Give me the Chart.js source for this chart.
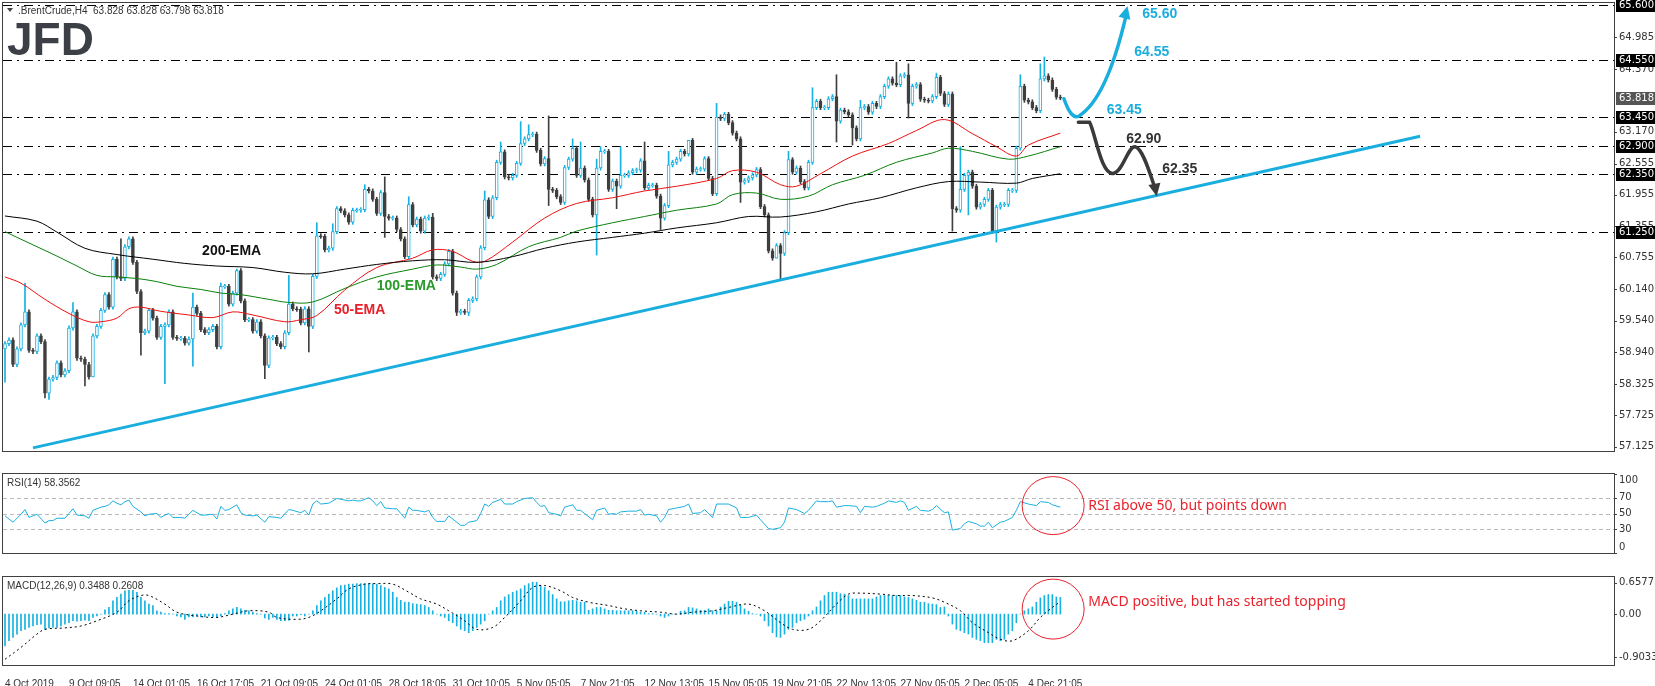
<!DOCTYPE html>
<html>
<head>
<meta charset="utf-8">
<script src="https://cdn.jsdelivr.net/npm/chart.js@4.4.1/dist/chart.umd.min.js"></script>
<style>
body{margin:0;background:#fff;width:1655px;height:686px;overflow:hidden;position:relative}
canvas{position:absolute;left:0}
</style>
</head>
<body>
<canvas id="price" width="1655" height="473" style="top:0"></canvas>
<canvas id="rsi" width="1655" height="102" style="top:473px"></canvas>
<canvas id="macd" width="1655" height="111" style="top:575px"></canvas>
<script>
// ---- data (H4 bars, index = bar number) ----
const N = 403;
const xLabels = ['4 Oct 2019','9 Oct 09:05','14 Oct 01:05','16 Oct 17:05','21 Oct 09:05','24 Oct 01:05','28 Oct 18:05','31 Oct 10:05','5 Nov 05:05','7 Nov 21:05','12 Nov 13:05','15 Nov 05:05','19 Nov 21:05','22 Nov 13:05','27 Nov 05:05','2 Dec 05:05','4 Dec 21:05'];

const firstOpen = 59.0;
const closes = [
59.1,59.17,58.7,59.0,59.46,59.71,58.97,58.95,59.25,59.14,
58.15,58.42,58.45,58.73,58.5,58.58,59.40,59.71,58.82,58.8,
58.7,58.46,59.25,59.43,59.74,60.04,59.8,60.72,60.38,60.35,
60.96,61.11,60.66,60.10,59.31,59.34,59.74,59.59,59.22,59.43,
59.46,59.71,59.22,59.2,59.2,59.11,59.19,59.8,59.68,59.37,
59.31,59.37,59.43,59.04,60.2,60.2,59.86,60.07,60.5,59.92,
59.56,59.56,59.34,59.52,59.25,58.68,59.21,59.22,59.10,59.04,
59.31,59.86,59.77,59.76,59.5,59.77,59.43,60.39,61.17,61.16,
60.9,60.93,61.25,61.69,61.65,61.57,61.43,61.66,61.66,61.67,
62.06,62.03,61.87,61.60,62.0,61.54,61.51,61.51,61.29,61.11,
60.77,61.77,61.38,61.49,61.26,61.51,61.53,60.38,60.35,60.43,
60.63,60.87,60.07,59.70,59.72,59.70,59.93,59.96,60.38,60.94,
61.86,61.54,61.9,62.58,62.78,62.30,62.28,62.33,62.56,62.94,
63.03,63.11,63.12,62.81,62.55,62.65,62.06,62.04,61.92,61.81,
62.48,62.64,62.85,62.33,62.47,62.24,61.87,61.57,62.47,62.79,
62.79,62.06,62.22,62.12,62.33,62.33,62.38,62.42,62.43,62.61,
62.09,62.14,62.14,61.93,61.51,61.75,62.53,62.58,62.64,62.79,
62.74,63.0,62.39,62.45,62.45,62.65,62.27,61.98,63.45,63.42,
63.50,63.34,63.14,63.03,62.20,62.23,62.28,62.34,62.44,61.73,
61.57,60.88,60.74,60.98,60.83,61.23,62.63,62.39,62.47,62.21,
62.09,62.58,63.63,63.75,63.63,63.63,63.80,63.84,63.37,63.58,
63.55,63.49,63.24,63.03,63.63,63.65,63.54,63.71,63.65,63.84,
64.04,64.18,64.10,64.07,64.24,64.26,63.71,64.04,64.07,63.79,
63.77,63.76,63.84,64.21,63.9,63.69,63.89,61.69,61.66,62.06,
62.33,62.39,62.12,61.72,61.77,61.87,62.04,61.26,61.72,61.77,
61.77,62.04,62.04,62.85,64.04,63.77,63.74,63.63,63.57,64.18,
64.24,64.16,63.98,63.83,63.82];

// long wicks only; other bars get a short wick
const hiIdx = [5,17,29,47,54,58,71,78,82,90,95,101,107,120,124,129,131,136,142,144,148,149,154,160,166,171,178,196,202,208,214,223,226,233,239,254,259,260];
const hiVal = [60.26,59.89,61.11,60.07,60.26,60.53,60.41,61.42,61.4,62.15,62.3,61.92,61.6,62.03,62.97,63.36,63.3,63.47,63.03,62.97,62.64,62.88,62.88,62.97,62.79,62.97,63.71,62.79,64.01,64.26,63.77,64.5,64.47,64.29,62.88,64.26,64.47,64.6];
const loIdx = [0,10,11,20,22,34,40,47,65,76,95,113,116,136,148,153,164,184,193,194,208,212,226,237,241,248];
const loVal = [58.36,58.06,58.03,58.29,58.46,58.88,58.33,58.67,58.43,58.94,61.14,59.64,59.64,61.75,60.80,61.69,61.29,61.81,60.74,60.32,62.97,62.91,63.43,61.26,61.57,61.05];

const ema200Idx = [0,8,13,20,28,37,45,53,62,70,77,85,93,102,110,118,127,135,143,152,160,168,178,186,194,203,211,219,228,236,244,253,257,264];
const ema200Val = [61.55,61.45,61.24,60.93,60.81,60.72,60.64,60.59,60.56,60.47,60.44,60.53,60.62,60.69,60.71,60.66,60.77,60.93,61.05,61.14,61.22,61.32,61.42,61.54,61.53,61.63,61.78,61.9,62.09,62.21,62.2,62.18,62.27,62.36];
const ema100Idx = [0,3,8,13,18,23,28,33,38,43,49,54,59,66,71,77,85,93,102,108,114,118,123,131,139,143,152,160,168,178,182,188,194,201,207,215,223,232,236,242,251,256,264];
const ema100Val = [61.25,61.14,60.96,60.78,60.59,60.41,60.38,60.35,60.29,60.2,60.14,60.07,60.04,59.95,59.89,59.9,60.16,60.38,60.53,60.61,60.57,60.53,60.62,60.96,61.14,61.26,61.42,61.54,61.66,61.78,61.96,61.99,61.87,61.93,62.15,62.33,62.58,62.76,62.85,62.79,62.64,62.70,62.88];
const ema50Idx = [0,4,10,16,21,24,28,31,34,39,46,52,57,62,70,74,78,85,93,102,107,112,117,120,127,135,143,152,160,168,178,182,188,194,198,204,212,221,228,235,242,248,253,256,264];
const ema50Val = [60.38,60.26,59.95,59.68,59.52,59.52,59.59,59.77,59.8,59.72,59.65,59.6,59.71,59.65,59.52,59.56,59.64,60.13,60.56,60.74,60.9,60.87,60.68,60.68,61.05,61.51,61.79,61.9,62.03,62.12,62.27,62.42,62.39,62.15,62.12,62.36,62.7,62.94,63.19,63.40,63.13,62.88,62.70,62.91,63.14];

const trendIdx = [7,354];
const trendVal = [57.1,63.08];

const levels = [65.60,64.55,63.45,62.90,62.35,61.25];
const lastPrice = 63.818;
const priceTicks = [64.985,64.370,63.170,62.555,61.955,61.355,60.755,60.140,59.540,58.940,58.325,57.725,57.125];

const rsiPts = [[0,47],[2,39],[4,49],[5,55],[6,45],[8,49],[10,38],[11,41],[12,41],[13,44],[15,44],[16,50],[17,56],[18,48],[20,47],[21,44],[22,54],[24,58],[25,59],[26,61],[27,66],[28,63],[29,61],[30,65],[31,67],[32,59],[34,52],[35,47],[36,49],[38,50],[39,45],[40,48],[41,50],[42,45],[44,45],[45,44],[47,54],[49,48],[50,48],[52,49],[53,43],[54,59],[55,54],[56,55],[58,61],[59,51],[60,48],[62,47],[63,48],[65,39],[66,46],[68,45],[69,44],[71,55],[72,54],[74,51],[75,54],[76,48],[77,62],[78,66],[79,62],[81,63],[82,66],[83,69],[84,68],[86,66],[87,67],[88,66],[89,66],[91,70],[92,66],[93,60],[94,65],[95,57],[97,56],[98,56],[99,50],[100,44],[101,58],[102,54],[103,54],[105,52],[106,54],[107,45],[108,40],[110,40],[111,47],[113,39],[114,35],[115,35],[116,39],[118,41],[119,50],[120,62],[121,59],[122,64],[124,68],[125,62],[127,62],[128,65],[130,69],[132,70],[133,64],[134,59],[135,60],[136,51],[138,49],[139,47],[140,58],[142,61],[143,54],[144,54],[145,50],[147,42],[148,54],[150,57],[151,49],[152,50],[153,49],[154,52],[156,53],[158,53],[159,55],[160,48],[161,49],[163,47],[164,39],[165,45],[166,55],[168,57],[170,59],[171,62],[172,50],[174,51],[175,55],[177,45],[178,62],[181,62],[183,57],[184,45],[186,45],[188,48],[189,42],[191,31],[192,30],[194,32],[195,39],[196,57],[198,55],[200,50],[201,54],[203,66],[204,65],[206,65],[207,66],[208,58],[210,60],[211,60],[213,59],[214,51],[215,59],[217,58],[218,59],[220,63],[221,66],[223,64],[224,66],[225,64],[226,54],[228,59],[229,54],[231,53],[232,55],[233,60],[235,51],[236,52],[237,29],[239,31],[240,37],[241,40],[243,37],[244,34],[245,34],[246,39],[247,32],[249,39],[250,40],[252,45],[253,54],[254,65],[256,62],[258,60],[259,65],[261,64],[262,61],[264,58]];
const rsiLevels = [70,50,30];

const macdHist = [
-0.67,-0.56,-0.49,-0.42,-0.35,-0.32,-0.28,-0.25,-0.22,-0.21,
-0.32,-0.29,-0.28,-0.28,-0.25,-0.21,-0.18,-0.14,-0.15,-0.14,
-0.13,-0.14,-0.07,-0.04,0,0.09,0.14,0.28,0.35,0.42,
0.49,0.5,0.5,0.46,0.35,0.28,0.21,0.18,0.07,0.04,
0.01,0.01,0,-0.04,-0.06,-0.11,-0.06,-0.06,-0.04,-0.06,
-0.06,-0.04,-0.06,-0.07,-0.04,0.01,0.07,0.11,0.14,0.11,
0.08,0.07,0.04,0.01,0,-0.08,-0.11,-0.07,-0.11,-0.14,
-0.14,-0.13,-0.04,-0.04,-0.01,-0.04,0,0.07,0.18,0.28,
0.35,0.42,0.49,0.55,0.6,0.61,0.63,0.63,0.64,0.64,
0.64,0.64,0.64,0.63,0.6,0.56,0.53,0.46,0.35,0.29,
0.25,0.25,0.22,0.21,0.2,0.18,0.14,0.07,0,-0.04,
-0.07,-0.14,-0.18,-0.25,-0.32,-0.35,-0.39,-0.35,-0.28,-0.21,
-0.14,0,0.07,0.14,0.28,0.36,0.41,0.46,0.49,0.53,
0.6,0.64,
0.67,0.67,0.6,0.56,0.49,0.41,0.32,0.26,0.26,0.28,
0.29,0.28,0.25,0.25,0.08,0.11,0.14,0.14,0.11,0.08,
0.08,0.07,0.07,0.07,0.07,0.07,0.06,0.04,0.04,0.01,
0.01,0,-0.04,-0.07,-0.04,0,0,0.06,0.07,0.14,
0.13,0.11,0.08,0.08,0.11,0.07,0.07,0.15,0.21,0.27,
0.27,0.25,0.19,0.11,0.06,0.01,0,-0.04,-0.14,-0.25,
-0.39,-0.48,-0.49,-0.42,-0.32,-0.28,-0.18,-0.14,-0.11,-0.04,
0.07,0.15,0.28,0.39,0.46,0.46,0.46,0.43,0.42,0.39,
0.32,0.32,0.32,0.32,0.32,0.32,0.36,0.39,0.39,0.39,
0.39,0.39,0.39,0.36,0.35,0.32,0.29,0.25,0.25,0.22,
0.21,0.2,0.14,0.15,-0.04,-0.21,-0.32,-0.35,-0.39,-0.42,
-0.49,-0.53,-0.56,-0.6,-0.6,-0.6,-0.53,-0.56,-0.53,-0.42,
-0.35,-0.18,0,0.07,0.11,0.15,0.25,0.34,0.39,0.41,
0.41,0.36,0.35];
const sigIdx = [0,4,8,10,15,19,23,28,31,34,36,40,43,48,53,57,61,66,68,73,76,79,83,86,90,93,97,101,104,108,111,115,118,122,125,129,132,135,139,142,146,151,155,159,164,168,172,177,181,186,190,194,197,201,204,208,211,214,219,223,227,232,235,239,242,246,249,252,256,259,262,264];
const sigVal = [-0.95,-0.7,-0.42,-0.32,-0.29,-0.25,-0.14,0.04,0.28,0.39,0.39,0.21,0.04,-0.04,-0.07,0,0.07,0.04,-0.07,-0.11,-0.07,0.07,0.32,0.53,0.63,0.64,0.63,0.46,0.32,0.21,0.07,-0.14,-0.32,-0.28,-0.07,0.28,0.56,0.6,0.49,0.35,0.25,0.18,0.11,0.07,0.04,0,0.04,0.07,0.14,0.21,0.07,-0.18,-0.32,-0.32,-0.14,0.21,0.42,0.44,0.42,0.39,0.39,0.34,0.25,0.07,-0.18,-0.39,-0.53,-0.56,-0.35,-0.07,0.14,0.26];

// ---- helpers ----
const UP = '#17b1e2', DN = '#3f3f3f', BLUE = '#1aaede', RED = '#e8222d';
const AX = '#333';
const labels = Array.from({length: N}, (_, i) => (i % 16 === 0 && i / 16 < xLabels.length) ? xLabels[i / 16] : '');

function sparse(idx, val) {
  const a = new Array(N).fill(null);
  idx.forEach((k, j) => { a[k] = val[j]; });
  return a;
}

const opens = closes.map((c, i) => i ? closes[i - 1] : firstOpen);
const hiArr = sparse(hiIdx, hiVal), loArr = sparse(loIdx, loVal);
const bodies = closes.map((c, i) => {
  const o = opens[i];
  return Math.abs(o - c) < 0.015 ? [c - 0.008, c + 0.008] : [o, c];
});
const wicks = closes.map((c, i) => {
  const o = opens[i];
  return [loArr[i] ?? Math.min(o, c) - 0.04, hiArr[i] ?? Math.max(o, c) + 0.04];
});
const candleCol = closes.map((c, i) => c >= opens[i] ? UP : DN);

function xAxis(show) {
  return {
    type: 'category', labels: labels, offset: true,
    display: show, grid: { display: false }, border: { display: false },
    ticks: {
      autoSkip: false, maxRotation: 0, align: 'start', padding: 5,
      color: AX, font: { family: 'Liberation Sans', size: 10 },
      callback: (v, i) => labels[i]
    },
    afterFit: s => { s.height = 21; }
  };
}
function yAxis(min, max) {
  return {
    position: 'right', min: min, max: max,
    grid: { display: false }, border: { display: false },
    ticks: { display: false },
    afterFit: s => { s.width = 41; }
  };
}

// draws panel frame and right-axis labels
function panelPlugin(ticks, extra) {
  return {
    id: 'panel',
    afterDraw(chart) {
      const ctx = chart.ctx, a = chart.chartArea, y = chart.scales.y;
      ctx.save();
      ctx.strokeStyle = '#404040';
      ctx.lineWidth = 1;
      ctx.strokeRect(a.left - 0.5, a.top - 0.5, a.right - a.left + 1, a.bottom - a.top + 1);
      ctx.font = '10px "DejaVu Sans"';
      ctx.fillStyle = AX;
      ctx.textAlign = 'left';
      ticks.forEach(t => {
        const py = y.getPixelForValue(t[0]);
        ctx.textBaseline = t[2] || 'middle';
        ctx.fillText(t[1], a.right + 5, py + (t[3] || 0));
        ctx.beginPath();
        ctx.moveTo(a.right, Math.round(py) + 0.5);
        ctx.lineTo(a.right + 3, Math.round(py) + 0.5);
        ctx.stroke();
      });
      if (extra) extra(chart, ctx);
      ctx.restore();
    }
  };
}

function arrowHead(ctx, fx, fy, tx, ty, size) {
  const ang = Math.atan2(ty - fy, tx - fx);
  ctx.beginPath();
  ctx.moveTo(tx, ty);
  ctx.lineTo(tx - size * Math.cos(ang - 0.45), ty - size * Math.sin(ang - 0.45));
  ctx.lineTo(tx - size * Math.cos(ang + 0.45), ty - size * Math.sin(ang + 0.45));
  ctx.closePath();
  ctx.fill();
}

// ---- price panel ----
const priceExtra = (chart, ctx) => {
  const x = chart.scales.x, y = chart.scales.y, a = chart.chartArea;
  const P = (i, p) => [x.getPixelForValue(i), y.getPixelForValue(p)];
  // level boxes
  ctx.font = '10px "DejaVu Sans"';
  ctx.textBaseline = 'middle';
  levels.concat([lastPrice]).forEach(v => {
    const py = Math.round(y.getPixelForValue(v));
    ctx.fillStyle = v === lastPrice ? '#555' : '#000';
    ctx.fillRect(a.right + 2, py - 6, 39, 13);
    ctx.fillStyle = '#fff';
    ctx.fillText(v.toFixed(3), a.right + 5, py + 0.5);
  });
  // header
  ctx.fillStyle = '#444';
  ctx.beginPath(); ctx.moveTo(7, 8); ctx.lineTo(13, 8); ctx.lineTo(10, 12); ctx.closePath(); ctx.fill();
  ctx.font = '10px "Liberation Sans"';
  ctx.fillStyle = '#333';
  ctx.textBaseline = 'middle';
  ctx.fillText('.BrentCrude,H4  63.828 63.828 63.798 63.818', 18, 11);
  ctx.font = 'bold 46px "Liberation Sans"';
  ctx.fillStyle = '#3c3f46';
  ctx.textBaseline = 'alphabetic';
  ctx.fillText('JFD', 7, 55);
  // EMA labels
  ctx.font = 'bold 14px "Liberation Sans"';
  ctx.textAlign = 'center';
  ctx.textBaseline = 'middle';
  [['200-EMA', 56.7, 60.88, '#111'], ['100-EMA', 100.4, 60.21, '#2a9a2a'], ['50-EMA', 88.7, 59.75, '#e8202a']].forEach(t => {
    const p = P(t[1], t[2]);
    ctx.fillStyle = t[3];
    ctx.fillText(t[0], p[0], p[1]);
  });
  // scenario arrows
  ctx.lineWidth = 3.5;
  ctx.lineCap = 'round';
  ctx.strokeStyle = BLUE; ctx.fillStyle = BLUE;
  let A = P(264.9, 63.80), C1 = P(266.8, 63.38), B = P(268.7, 63.47), C2 = P(275.5, 63.8), T = P(280.3, 65.35);
  ctx.beginPath(); ctx.moveTo(...A); ctx.quadraticCurveTo(...C1, ...B); ctx.quadraticCurveTo(...C2, ...T); ctx.stroke();
  const tip = P(280.8, 65.58);
  arrowHead(ctx, C2[0] + 8, C2[1] - 40, tip[0], tip[1], 14);
  ctx.strokeStyle = '#3a3a3a'; ctx.fillStyle = '#3a3a3a';
  ctx.beginPath();
  ctx.moveTo(...P(268.5, 63.35)); ctx.lineTo(...P(271.3, 63.35));
  ctx.bezierCurveTo(...P(272.6, 63.2), ...P(274.2, 62.3), ...P(277.4, 62.37));
  ctx.bezierCurveTo(...P(279.6, 62.4), ...P(281.0, 62.9), ...P(282.7, 62.88));
  ctx.bezierCurveTo(...P(284.5, 62.86), ...P(286.3, 62.4), ...P(287.6, 62.1));
  ctx.stroke();
  const t2 = P(288.1, 61.93);
  arrowHead(ctx, ...P(287.2, 62.3), t2[0], t2[1], 14);
  // scenario labels
  ctx.font = 'bold 14px "Liberation Sans"';
  ctx.textAlign = 'left';
  [['65.60', 284.5, 65.42, BLUE], ['64.55', 282.5, 64.70, BLUE], ['63.45', 275.6, 63.58, BLUE], ['62.90', 280.5, 63.03, '#333'], ['62.35', 289.5, 62.45, '#333']].forEach(t => {
    const p = P(t[1], t[2]);
    ctx.fillStyle = t[3];
    ctx.fillText(t[0], p[0], p[1]);
  });
};

const levelLines = {
  id: 'levels',
  beforeDatasetsDraw(chart) {
    const ctx = chart.ctx, a = chart.chartArea, y = chart.scales.y;
    ctx.save();
    ctx.strokeStyle = '#000';
    ctx.lineWidth = 1;
    ctx.setLineDash([9, 5, 2, 5]);
    levels.forEach(v => {
      const py = Math.round(y.getPixelForValue(v)) + 0.5;
      ctx.beginPath(); ctx.moveTo(a.left, py); ctx.lineTo(a.right, py); ctx.stroke();
    });
    ctx.restore();
  }
};

const lineDs = (data, color, width) => ({
  type: 'line', data: data, borderColor: color, borderWidth: width,
  pointRadius: 0, spanGaps: true, tension: 0.35, order: 0
});

new Chart(document.getElementById('price'), {
  type: 'bar',
  data: {
    labels: labels,
    datasets: [
      { data: wicks, backgroundColor: candleCol, barThickness: 1, grouped: false, order: 3 },
      { data: bodies, backgroundColor: closes.map((c, i) => c >= opens[i] ? '#fff' : DN), borderColor: candleCol,
        borderWidth: 1, borderSkipped: false, barThickness: 3, grouped: false, order: 2 },
      lineDs(sparse(ema200Idx, ema200Val), '#000', 1),
      lineDs(sparse(ema100Idx, ema100Val), '#0a800a', 1),
      lineDs(sparse(ema50Idx, ema50Val), '#f01010', 1),
      Object.assign(lineDs(sparse(trendIdx, trendVal), BLUE, 3), { tension: 0 })
    ]
  },
  options: {
    responsive: false, animation: false, devicePixelRatio: 1,
    layout: { padding: { left: 3, top: 3, right: 0, bottom: 1 } },
    plugins: { legend: { display: false }, tooltip: { enabled: false } },
    scales: { x: xAxis(false), y: yAxis(57.04, 65.637) }
  },
  plugins: [levelLines, panelPlugin(priceTicks.map(v => [v, v.toFixed(3)]), priceExtra)]
});

// ---- RSI panel ----
const rsiExtra = (chart, ctx) => {
  const x = chart.scales.x, y = chart.scales.y;
  ctx.font = '10px "Liberation Sans"';
  ctx.fillStyle = '#333';
  ctx.textBaseline = 'top';
  ctx.fillText('RSI(14) 58.3562', 7, 5);
  const cx = x.getPixelForValue(262.2), cy = y.getPixelForValue(60);
  ctx.strokeStyle = RED; ctx.lineWidth = 1;
  ctx.beginPath(); ctx.ellipse(cx, cy, 31, 29, 0, 0, Math.PI * 2); ctx.stroke();
  ctx.fillStyle = RED;
  ctx.font = '14px "Noto Sans"';
  ctx.textBaseline = 'middle';
  ctx.fillText('RSI above 50, but points down', x.getPixelForValue(271), cy);
};
const rsiGrid = {
  id: 'rsiGrid',
  beforeDatasetsDraw(chart) {
    const ctx = chart.ctx, a = chart.chartArea, y = chart.scales.y;
    ctx.save();
    ctx.strokeStyle = '#bbb'; ctx.setLineDash([4, 3]);
    rsiLevels.forEach(v => {
      const py = Math.round(y.getPixelForValue(v)) + 0.5;
      ctx.beginPath(); ctx.moveTo(a.left, py); ctx.lineTo(a.right, py); ctx.stroke();
    });
    ctx.restore();
  }
};
new Chart(document.getElementById('rsi'), {
  type: 'line',
  data: {
    labels: labels,
    datasets: [{ data: sparse(rsiPts.map(p => p[0]), rsiPts.map(p => p[1])), borderColor: UP, borderWidth: 1,
      pointRadius: 0, spanGaps: true, tension: 0 }]
  },
  options: {
    responsive: false, animation: false, devicePixelRatio: 1,
    layout: { padding: { left: 3, top: 1, right: 0, bottom: 1 } },
    plugins: { legend: { display: false }, tooltip: { enabled: false } },
    scales: { x: Object.assign(xAxis(false), { offset: true }), y: yAxis(0, 100) }
  },
  plugins: [rsiGrid, panelPlugin([[100, '100', 'top', 1], [70, '70'], [50, '50'], [30, '30'], [0, '0', 'bottom', -1]], rsiExtra)]
});

// ---- MACD panel ----
const macdExtra = (chart, ctx) => {
  const x = chart.scales.x, y = chart.scales.y;
  ctx.font = '10px "Liberation Sans"';
  ctx.fillStyle = '#333';
  ctx.textBaseline = 'top';
  ctx.fillText('MACD(12,26,9) 0.3488 0.2608', 7, 6);
  const cx = x.getPixelForValue(262.2), cy = y.getPixelForValue(0.105);
  ctx.strokeStyle = RED; ctx.lineWidth = 1;
  ctx.beginPath(); ctx.ellipse(cx, cy, 31, 30, 0, 0, Math.PI * 2); ctx.stroke();
  ctx.fillStyle = RED;
  ctx.font = '14px "Noto Sans"';
  ctx.textBaseline = 'middle';
  ctx.fillText('MACD positive, but has started topping', x.getPixelForValue(271), y.getPixelForValue(0.25));
};
new Chart(document.getElementById('macd'), {
  type: 'bar',
  data: {
    labels: labels,
    datasets: [
      { data: macdHist, backgroundColor: UP, barThickness: 1, order: 2 },
      { type: 'line', data: sparse(sigIdx, sigVal), borderColor: '#000', borderWidth: 1, borderDash: [2, 3],
        pointRadius: 0, spanGaps: true, tension: 0.35, order: 1 }
    ]
  },
  options: {
    responsive: false, animation: false, devicePixelRatio: 1,
    layout: { padding: { left: 3, top: 2, right: 0, bottom: 0 } },
    plugins: { legend: { display: false }, tooltip: { enabled: false } },
    scales: { x: xAxis(true), y: yAxis(-1.07, 0.78) }
  },
  plugins: [panelPlugin([[0.6577, '0.6577'], [0, '0.00'], [-0.9033, '-0.9033']], macdExtra)]
});
</script>
</body>
</html>
